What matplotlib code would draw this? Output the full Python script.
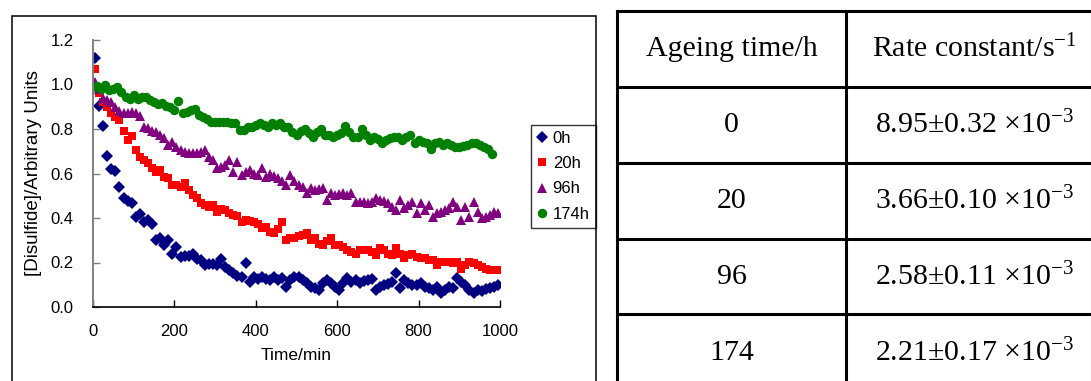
import matplotlib
matplotlib.use("Agg")
import matplotlib.pyplot as plt
from matplotlib.lines import Line2D
from matplotlib.patches import Rectangle

plt.rcParams["font.family"] = ["Liberation Sans", "DejaVu Sans"]
plt.rcParams["mathtext.fontset"] = "custom"
plt.rcParams["mathtext.rm"] = "Liberation Serif"
plt.rcParams["mathtext.it"] = "Liberation Serif:italic"
plt.rcParams["mathtext.bf"] = "Liberation Serif:bold"

# ---------------- data ----------------
minutes = [5, 15, 25, 35, 45, 55, 65, 75, 85, 95,
           105, 115, 125, 135, 145, 155, 165, 175, 185, 195,
           205, 215, 225, 235, 245, 255, 265, 275, 285, 295,
           305, 315, 325, 335, 345, 355, 365, 375, 385, 395,
           405, 415, 425, 435, 445, 455, 465, 475, 485, 495,
           505, 515, 525, 535, 545, 555, 565, 575, 585, 595,
           605, 615, 625, 635, 645, 655, 665, 675, 685, 695,
           705, 715, 725, 735, 745, 755, 765, 775, 785, 795,
           805, 815, 825, 835, 845, 855, 865, 875, 885, 895,
           905, 915, 925, 935, 945, 955, 965, 975, 985, 995]

minutes_174h = [0, 10, 20, 30, 40, 50, 60, 70, 80, 90,
                100, 110, 120, 130, 140, 150, 160, 170, 180, 190,
                200, 210, 220, 230, 240, 250, 260, 270, 280, 290,
                300, 310, 320, 330, 340, 350, 360, 370, 380, 390,
                400, 410, 420, 430, 440, 450, 460, 470, 480, 490,
                500, 510, 520, 530, 540, 550, 560, 570, 580, 590,
                600, 610, 620, 630, 640, 650, 660, 670, 680, 690,
                700, 710, 720, 730, 740, 750, 760, 770, 780, 790,
                800, 810, 820, 830, 840, 850, 860, 870, 880, 890,
                900, 910, 920, 930, 940, 950, 960, 970, 980]

disulfide_0h = [1.12, 0.905, 0.815, 0.68, 0.62, 0.61, 0.54, 0.49, 0.475, 0.466,
                0.405, 0.42, 0.38, 0.39, 0.375, 0.30, 0.31, 0.28, 0.30, 0.238,
                0.27, 0.225, 0.23, 0.23, 0.24, 0.215, 0.21, 0.19, 0.195, 0.195,
                0.19, 0.215, 0.178, 0.166, 0.155, 0.14, 0.133, 0.20, 0.114, 0.133,
                0.128, 0.135, 0.125, 0.12, 0.135, 0.12, 0.13, 0.091, 0.121, 0.136,
                0.136, 0.121, 0.106, 0.091, 0.085, 0.076, 0.106, 0.121, 0.106, 0.091,
                0.076, 0.106, 0.129, 0.114, 0.121, 0.106, 0.115, 0.121, 0.125, 0.076,
                0.091, 0.099, 0.105, 0.114, 0.151, 0.084, 0.121, 0.106, 0.10, 0.099,
                0.106, 0.091, 0.085, 0.076, 0.091, 0.061, 0.076, 0.091, 0.084, 0.129,
                0.114, 0.099, 0.076, 0.061, 0.076, 0.072, 0.08, 0.084, 0.091, 0.099]

disulfide_20h = [1.07, 0.96, 0.92, 0.90, 0.87, 0.855, 0.84, 0.79, 0.75, 0.77,
                 0.705, 0.675, 0.66, 0.645, 0.623, 0.608, 0.616, 0.586, 0.578, 0.548,
                 0.548, 0.54, 0.556, 0.526, 0.503, 0.488, 0.466, 0.458, 0.451, 0.458,
                 0.428, 0.44, 0.435, 0.421, 0.415, 0.41, 0.383, 0.39, 0.387, 0.38,
                 0.375, 0.353, 0.36, 0.338, 0.333, 0.35, 0.383, 0.30, 0.31, 0.31,
                 0.318, 0.325, 0.333, 0.30, 0.31, 0.285, 0.277, 0.295, 0.31, 0.277,
                 0.277, 0.27, 0.255, 0.248, 0.24, 0.255, 0.255, 0.255, 0.245, 0.233,
                 0.263, 0.255, 0.24, 0.233, 0.263, 0.24, 0.218, 0.233, 0.24, 0.225,
                 0.222, 0.218, 0.21, 0.21, 0.188, 0.203, 0.203, 0.203, 0.196, 0.203,
                 0.173, 0.19, 0.203, 0.196, 0.188, 0.18, 0.172, 0.166, 0.166, 0.166]

disulfide_96h = [1.01, 0.98, 0.94, 0.93, 0.92, 0.90, 0.88, 0.87, 0.87, 0.875,
                 0.87, 0.86, 0.81, 0.805, 0.79, 0.785, 0.775, 0.758, 0.728, 0.743,
                 0.72, 0.705, 0.698, 0.69, 0.69, 0.69, 0.698, 0.705, 0.675, 0.66,
                 0.623, 0.63, 0.638, 0.66, 0.608, 0.653, 0.593, 0.608, 0.615, 0.60,
                 0.593, 0.623, 0.585, 0.60, 0.59, 0.578, 0.565, 0.548, 0.593, 0.565,
                 0.548, 0.54, 0.511, 0.533, 0.526, 0.53, 0.533, 0.481, 0.511, 0.503,
                 0.51, 0.511, 0.503, 0.511, 0.473, 0.473, 0.47, 0.466, 0.473, 0.488,
                 0.481, 0.475, 0.466, 0.451, 0.436, 0.481, 0.443, 0.46, 0.473, 0.421,
                 0.466, 0.436, 0.458, 0.406, 0.421, 0.428, 0.435, 0.443, 0.473, 0.451,
                 0.391, 0.451, 0.406, 0.473, 0.428, 0.398, 0.406, 0.415, 0.428, 0.421]

disulfide_174h = [0.987, 0.993, 0.978, 1.0, 0.975, 0.98, 0.987, 0.968, 0.945, 0.937,
                  0.952, 0.937, 0.945, 0.942, 0.93, 0.922, 0.912, 0.915, 0.905, 0.9,
                  0.885, 0.927, 0.87, 0.875, 0.885, 0.892, 0.862, 0.855, 0.847, 0.832,
                  0.832, 0.832, 0.832, 0.83, 0.825, 0.825, 0.795, 0.795, 0.81, 0.81,
                  0.817, 0.825, 0.817, 0.81, 0.825, 0.817, 0.825, 0.81, 0.81, 0.787,
                  0.772, 0.79, 0.802, 0.78, 0.765, 0.787, 0.802, 0.772, 0.772, 0.762,
                  0.772, 0.78, 0.813, 0.787, 0.765, 0.765, 0.802, 0.772, 0.75, 0.765,
                  0.755, 0.735, 0.75, 0.758, 0.765, 0.765, 0.75, 0.765, 0.772, 0.735,
                  0.75, 0.742, 0.735, 0.712, 0.735, 0.742, 0.727, 0.735, 0.728, 0.72,
                  0.72, 0.725, 0.727, 0.735, 0.735, 0.727, 0.72, 0.712, 0.687]

x_ticks = [0, 200, 400, 600, 800, 1000]
y_ticks = [0.0, 0.2, 0.4, 0.6, 0.8, 1.0, 1.2]

ageing_time = ["0", "20", "96", "174"]
rate_value = ["8.95", "3.66", "2.58", "2.21"]
rate_error = ["0.32", "0.10", "0.11", "0.17"]

# ---------------- figure ----------------
W, H = 1091, 381
fig = plt.figure(figsize=(W / 100, H / 100), dpi=100)


def fx(px):
    return px / W


def fy(py):
    return 1 - py / H


# chart frame
fig.add_artist(Rectangle((fx(12), fy(395)), fx(596) - fx(12), fy(16) - fy(395),
                         transform=fig.transFigure, fill=False,
                         edgecolor="black", linewidth=1.1))

ax = fig.add_axes([fx(93), fy(307), fx(500) - fx(93), fy(40) - fy(307)])
ax.set_xlim(0, 1000)
ax.set_ylim(0, 1.2)

series = [
    (minutes, disulfide_0h, "D", "#000080", 6.0, "0h"),
    (minutes, disulfide_20h, "s", "#FF0000", 6.2, "20h"),
    (minutes, disulfide_96h, "^", "#800080", 7.4, "96h"),
    (minutes_174h, disulfide_174h, "o", "#008000", 6.8, "174h"),
]
for t, v, mk, col, ms, lab in series:
    ax.plot(t, v, linestyle="none", marker=mk, color=col, markersize=ms,
            markeredgewidth=0, label=lab)

for side in ("top", "right"):
    ax.spines[side].set_visible(False)
ax.spines["left"].set_color("#808080")
ax.spines["left"].set_linewidth(1.4)
ax.spines["bottom"].set_color("black")
ax.spines["bottom"].set_linewidth(1.2)

ax.set_xticks(x_ticks)
ax.set_yticks(y_ticks)
ax.set_yticklabels([f"{v:.1f}" for v in y_ticks])
ax.tick_params(axis="x", direction="in", length=5, width=1, color="black",
               labelsize=12, pad=12)
ax.tick_params(axis="y", direction="in", length=5, width=1, color="#808080",
               labelsize=12, pad=14)
ax.set_xlabel("Time/min", fontsize=12.5, labelpad=7)
ax.set_ylabel("[Disulfide]/Arbitrary Units", fontsize=13.5, labelpad=6)

leg = ax.legend(loc="upper left", frameon=True, fontsize=12, handlelength=0.6,
                handletextpad=0.35, borderpad=0.35, labelspacing=0.62,
                fancybox=False, borderaxespad=0, markerscale=1.0)
leg.set_bbox_to_anchor(((531 - 93) / 407, (307 - 125) / 267), transform=ax.transAxes)
leg.get_frame().set_edgecolor("black")
leg.get_frame().set_linewidth(1.0)

# ---------------- table ----------------
lw_tab = 2.2
v_lines = [617, 846, 1092]
h_lines = [11, 87, 163, 239, 314]
for xp in v_lines:
    fig.add_artist(Line2D([fx(xp), fx(xp)], [fy(11), fy(395)],
                          transform=fig.transFigure, color="black", linewidth=lw_tab))
for yp in h_lines:
    fig.add_artist(Line2D([fx(617), fx(1095)], [fy(yp), fy(yp)],
                          transform=fig.transFigure, color="black", linewidth=lw_tab))

serif = ["Liberation Serif", "DejaVu Serif"]
tsize = 21.5
col1 = (617 + 846) / 2
col2 = 974
fig.text(fx(col1), fy(49), "Ageing time/h", family=serif, fontsize=tsize,
         ha="center", va="center")
fig.text(fx(col2), fy(49), "Rate constant/s$^{-1}$", family=serif, fontsize=tsize,
         ha="center", va="center")

row_centres = [125, 201, 277, 353]
for yc, age, val, err in zip(row_centres, ageing_time, rate_value, rate_error):
    fig.text(fx(col1), fy(yc), age, family=serif, fontsize=tsize,
             ha="center", va="center")
    fig.text(fx(col2), fy(yc), f"{val}\u00b1{err} \u00d710$^{{-3}}$", family=serif,
             fontsize=tsize, ha="center", va="center")

fig.savefig("out.png", dpi=100)
